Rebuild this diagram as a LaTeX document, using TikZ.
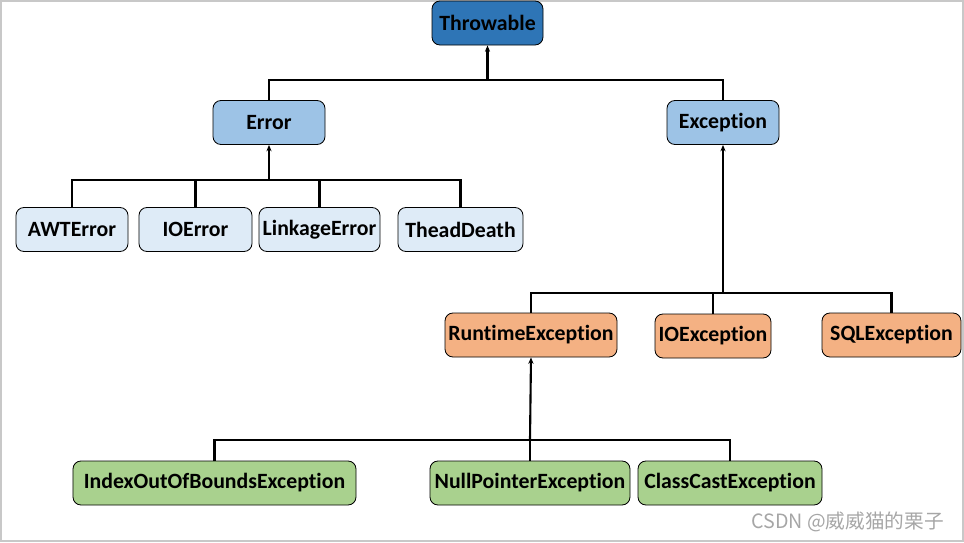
\documentclass[tikz,border=0pt]{standalone}
\usepackage{fontspec}
\setmainfont[Ligatures={NoCommon}]{Carlito}
\newfontfamily\cjkfont{Noto Sans CJK SC}
\usetikzlibrary{arrows.meta}
\definecolor{darkblue}{HTML}{2E75B6}
\definecolor{midblue}{HTML}{9DC3E6}
\definecolor{paleblue}{HTML}{DEEBF7}
\definecolor{orangefill}{HTML}{F4B183}
\definecolor{greenfill}{HTML}{A9D18E}
\definecolor{framegray}{HTML}{C8C8C8}
\begin{document}
\begin{tikzpicture}[x=0.25mm,y=-0.25mm,
  block/.style={rectangle,rounded corners=2mm,draw=black,line width=0.6pt,minimum height=11mm,inner sep=0pt,font=\fontsize{15.5}{17}\selectfont\bfseries},
  link/.style={line width=1.5pt},
  arr/.style={line width=1.5pt,-{Stealth[length=1.6mm,width=1.3mm]}}]
\useasboundingbox (0,0) rectangle (964,542);
\draw [framegray,line width=1pt] (1,1) rectangle (963,541);
\node at (487.5, 23) (Thr) [block,fill=darkblue,minimum width=27.75mm] {Throwable};
\node at (269, 122.5) (Err) [block,fill=midblue,minimum width=28mm] {Error};
\node at (723, 122.5) (Exc) [block,fill=midblue,minimum width=28mm] {Exception};
\node at ( 72, 229.5) (AWT) [block,fill=paleblue,minimum width=28mm] {AWTError};
\node at (195.5, 229.5) (IOErr) [block,fill=paleblue,minimum width=28.25mm] {IOError};
\node at (319.5, 229.5) (Link) [block,fill=paleblue,minimum width=30.25mm] {LinkageError};
\node at (460.5, 229.5) (Dea) [block,fill=paleblue,minimum width=31.25mm] {TheadDeath};
\node at (531, 335) (Run) [block,fill=orangefill,minimum width=43mm] {RuntimeException};
\node at (713, 336) (IOExc) [block,fill=orangefill,minimum width=29mm] {IOException};
\node at (891.5, 335) (SQL) [block,fill=orangefill,minimum width=34.75mm] {SQLException};
\node at (214.5, 483) (Idx) [block,fill=greenfill,minimum width=70.75mm] {IndexOutOfBoundsException};
\node at (530, 483) (Null) [block,fill=greenfill,minimum width=50mm] {NullPointerException};
\node at (730, 483) (Cls) [block,fill=greenfill,minimum width=46mm] {ClassCastException};
% junctions
\coordinate (j1) at (487.5, 80);
\coordinate (j2) at (269, 180);
\coordinate (j3) at (723, 293);
\coordinate (j4) at (530, 440);
\draw [arr] (j1) -- (Thr.south);
\draw [link] (Err.north) |- (j1) -| (Exc.north);
\draw [arr] (j2) -- (Err.south);
\draw [link] (AWT.north) |- (j2) -| (Dea.north);
\draw [link] (IOErr.north) -- (IOErr.north |- j2);
\draw [link] (Link.north) -- (Link.north |- j2);
\draw [arr] (j3) -- (Exc.south);
\draw [link] (Run.north) |- (j3) -| (SQL.north);
\draw [link] (IOExc.north) -- (IOExc.north |- j3);
\draw [arr] (j4) -- (Run.south);
\draw [link] (Idx.north) |- (j4) -| (Cls.north);
\draw [link] (Null.north) -- (j4);
\node at (949, 522) (mark) [anchor=east,text=gray!70,font=\cjkfont\fontsize{14}{16}\selectfont] {CSDN @威威猫的栗子};
\end{tikzpicture}
\end{document}
